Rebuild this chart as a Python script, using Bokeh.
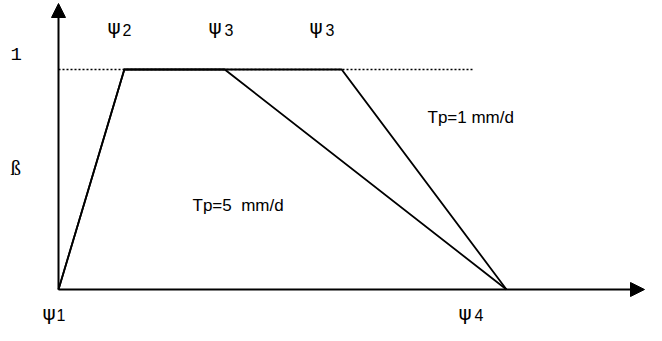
from bokeh.plotting import figure
from bokeh.models import Range1d, Arrow, NormalHead, Label
from bokeh.embed import file_html
from bokeh.resources import INLINE

# ---- schematic data (x: normalised pressure head, y: reduction factor beta) ----
psi1 = 0.0
psi2 = 0.147
psi3_tp5 = 0.371
psi3_tp1 = 0.632
psi4 = 1.0
beta_max = 1.0
dotted_end = 0.926

tp1_x = [psi1, psi2, psi3_tp1, psi4]
tp1_y = [0.0, beta_max, beta_max, 0.0]
tp5_x = [psi1, psi2, psi3_tp5, psi4]
tp5_y = [0.0, beta_max, beta_max, 0.0]

psi_labels = ["1", "2", "3", "3", "4"]
tp_labels = ["Tp=1 mm/d", "Tp=5\u00a0 mm/d"]
y_tick_label = "1"
y_axis_label = "ß"

# ---- figure-pixel helpers for the layout ----
X0, Y0, XU, YU = 58.0, 289.0, 448.0, 220.0

def px(xf):
    return (xf - X0) / XU

def py(yf):
    return (Y0 - yf) / YU

W, H = 646, 325
p = figure(width=W, height=H, output_backend="svg", toolbar_location=None,
           x_range=Range1d(px(0), px(W)), y_range=Range1d(py(H), py(0)),
           min_border=0)
p.axis.visible = False
p.grid.visible = False
p.outline_line_color = None
p.background_fill_color = "white"
p.border_fill_color = "white"

# dotted level line at beta = 1
p.line([psi1, dotted_end], [beta_max, beta_max], line_color="black",
       line_width=1.5, line_dash="2 2")

# curves
p.line(tp5_x, tp5_y, line_color="black", line_width=1.8, line_join="miter")
p.line(tp1_x, tp1_y, line_color="black", line_width=1.8, line_join="miter")

# axes with arrows
p.add_layout(Arrow(end=NormalHead(size=14, fill_color="black", line_color="black", line_width=1),
                   x_start=psi1, y_start=0, x_end=px(644), y_end=0,
                   line_color="black", line_width=2))
p.add_layout(Arrow(end=NormalHead(size=14, fill_color="black", line_color="black", line_width=1),
                   x_start=psi1, y_start=0, x_end=psi1, y_end=py(3),
                   line_color="black", line_width=2))

def lab(text, xf, yf, font="Liberation Sans", size="17px"):
    p.add_layout(Label(x=px(xf), y=py(yf), text=text, text_font=font,
                       text_font_size=size, text_color="black",
                       text_align="left", text_baseline="alphabetic"))

# psi labels: psi symbol + subscript digit
psi_pos = [(42, 312, 56, 314.5), (107, 26.5, 122, 29), (208, 26.5, 224, 29),
           (309, 26.5, 325, 29), (458, 312, 474, 314.5)]
for d, (xs, ys, xd, yd) in zip(psi_labels, psi_pos):
    lab("ψ", xs, ys, font="DejaVu Sans", size="20px")
    lab(d, xd, yd, size="16px")

lab(y_tick_label, 10, 53, font="Liberation Mono", size="19px")
lab(y_axis_label, 10, 167, font="Liberation Serif", size="21px")
lab(tp_labels[0], 427, 117)
lab(tp_labels[1], 192, 205)

open("out.html", "w").write(file_html(p, INLINE))
